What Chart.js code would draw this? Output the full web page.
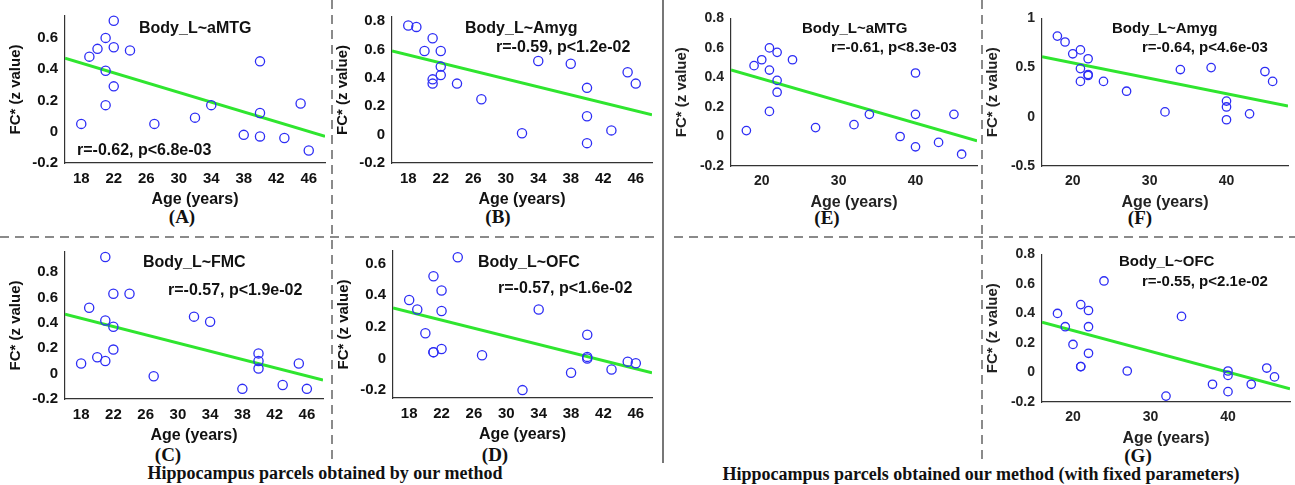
<!DOCTYPE html>
<html>
<head>
    <title>FC vs Age</title>
    <script src="https://cdn.jsdelivr.net/npm/chart.js"></script>
    <style>
        body { margin: 0; background: #fff; }
        #fig { position: relative; width: 1295px; height: 485px; overflow: hidden; }
        #fig canvas { position: absolute; }
        #lines { position: absolute; left: 0; top: 0; }
        .lab { position: absolute; transform: translate(-50%, -50%); font: bold 19px 'Liberation Serif', serif; color: #111; white-space: nowrap; }
        .cap { position: absolute; transform: translate(-50%, -50%); font: bold 18px 'Liberation Serif', serif; color: #111; white-space: nowrap; }
    </style>
</head>
<body>
<div id="fig">
    <svg id="lines" width="1295" height="485">
        <g stroke="#8a8a8a" stroke-width="2" stroke-dasharray="9 6" fill="none">
            <line x1="0" y1="237" x2="655" y2="237"/>
            <line x1="674" y1="237" x2="1295" y2="237"/>
            <line x1="332" y1="0" x2="332" y2="462"/>
            <line x1="982" y1="0" x2="982" y2="462"/>
        </g>
        <line x1="663" y1="0" x2="663" y2="463" stroke="#777" stroke-width="2"/>
    </svg>
    <div class="lab" style="left:182px;top:217px">(A)</div>
    <div class="lab" style="left:498px;top:217px">(B)</div>
    <div class="lab" style="left:827px;top:218px">(E)</div>
    <div class="lab" style="left:1140px;top:218px">(F)</div>
    <div class="lab" style="left:168px;top:455px">(C)</div>
    <div class="lab" style="left:495px;top:455px">(D)</div>
    <div class="lab" style="left:1138px;top:456px">(G)</div>
    <div class="cap" style="left:325px;top:473px">Hippocampus parcels obtained by our method</div>
    <div class="cap" style="left:981px;top:474px">Hippocampus parcels obtained our method (with fixed parameters)</div>
</div>

<script>
    // subject ages, same order for every panel
    var ages = [18, 19, 20, 21, 21, 21, 22, 22, 22, 24, 27, 32, 34, 38, 40, 40, 40, 43, 45, 46];

    var fcA = [0.05, 0.48, 0.53, 0.60, 0.39, 0.17, 0.71, 0.54, 0.29, 0.52, 0.05, 0.09, 0.17, -0.02, 0.45, 0.12, -0.03, -0.04, 0.18, -0.12];
    var fcB = [0.77, 0.76, 0.59, 0.68, 0.39, 0.36, 0.59, 0.48, 0.42, 0.36, 0.25, 0.01, 0.52, 0.50, 0.33, 0.13, -0.06, 0.03, 0.44, 0.36];
    var fcC = [0.08, 0.52, 0.13, 0.92, 0.42, 0.10, 0.63, 0.37, 0.19, 0.63, -0.02, 0.45, 0.41, -0.12, 0.16, 0.10, 0.04, -0.09, 0.08, -0.12];
    var fcD = [0.37, 0.31, 0.16, 0.52, 0.04, 0.04, 0.43, 0.30, 0.06, 0.64, 0.02, -0.20, 0.31, -0.09, 0.15, 0.01, 0.00, -0.07, -0.02, -0.03];
    var fcE = [0.04, 0.48, 0.52, 0.60, 0.45, 0.17, 0.57, 0.38, 0.30, 0.52, 0.06, 0.08, 0.15, 0.00, 0.43, 0.15, -0.07, -0.04, 0.15, -0.12];
    var fcF = [0.82, 0.76, 0.64, 0.68, 0.49, 0.36, 0.59, 0.43, 0.42, 0.36, 0.26, 0.05, 0.48, 0.50, 0.16, 0.10, -0.03, 0.03, 0.46, 0.36];
    var fcG = [0.40, 0.31, 0.19, 0.46, 0.04, 0.04, 0.42, 0.31, 0.13, 0.62, 0.01, -0.16, 0.38, -0.08, 0.01, -0.02, -0.13, -0.08, 0.03, -0.03];

    // regression line end points at age 16 and 48
    var fitX = [16, 48];
    var fitA = [0.47, -0.03];
    var fitB = [0.59, 0.14];
    var fitC = [0.47, -0.05];
    var fitD = [0.32, -0.09];
    var fitE = [0.45, -0.03];
    var fitF = [0.61, 0.11];
    var fitG = [0.34, -0.11];

    var xTicksLeft = [18, 22, 26, 30, 34, 38, 42, 46];
    var xTicksRight = [20, 30, 40];
    var yTicks8 = [-0.2, 0, 0.2, 0.4, 0.6, 0.8];
    var yTicks6 = [-0.2, 0, 0.2, 0.4, 0.6];
    var yTicksF = [-0.5, 0, 0.5, 1];

    var notesPlugin = {
        id: 'notes',
        afterDraw: function (chart, args, opts) {
            var ctx = chart.ctx, a = chart.chartArea;
            ctx.save();
            ctx.fillStyle = '#111';
            ctx.textBaseline = 'middle';
            ctx.textAlign = 'left';
            ctx.font = opts.font;
            for (var i = 0; i < opts.items.length; i++) {
                var n = opts.items[i];
                ctx.fillText(n.text, a.left + n.dx, a.top + n.dy);
            }
            ctx.restore();
        }
    };

    function panel(cfg) {
        var l = cfg.plot[0], t = cfg.plot[1], r = cfg.plot[2], b = cfg.plot[3];
        var padL = 58, padT = 12, padR = 8, axisH = 52;
        var fam = 'Liberation Sans';
        var tickSize = cfg.right ? 14 : 15;
        var titleSize = 16;
        var noteFont = cfg.right ? 'bold 15px "Liberation Sans"' : 'bold 16px "Liberation Sans"';
        var ink = cfg.right ? '#222' : '#111';

        var cv = document.createElement('canvas');
        cv.width = r - l + padL + padR;
        cv.height = b - t + padT + axisH;
        cv.style.left = (l - padL) + 'px';
        cv.style.top = (t - padT) + 'px';
        document.getElementById('fig').appendChild(cv);

        var xt = cfg.right ? xTicksRight : xTicksLeft;

        new Chart(cv, {
            type: 'scatter',
            data: {
                datasets: [{
                    type: 'line',
                    data: fitX.map(function (x, i) { return { x: x, y: cfg.fit[i] }; }),
                    borderColor: '#2fe52f',
                    borderWidth: 3,
                    pointRadius: 0,
                    order: 2
                }, {
                    data: ages.map(function (x, i) { return { x: x, y: cfg.values[i] }; }),
                    pointStyle: 'circle',
                    pointRadius: cfg.right ? 4.2 : 4.6,
                    borderColor: 'rgb(45,45,245)',
                    backgroundColor: 'rgba(0,0,0,0)',
                    borderWidth: 1.3,
                    clip: false,
                    order: 1
                }]
            },
            options: {
                responsive: false,
                animation: false,
                layout: { padding: { top: padT, right: padR, left: 0, bottom: 0 } },
                plugins: {
                    legend: { display: false },
                    tooltip: { enabled: false },
                    notes: { font: noteFont, items: cfg.notes }
                },
                scales: {
                    x: {
                        type: 'linear', min: 16, max: 48,
                        afterBuildTicks: function (s) { s.ticks = xt.map(function (v) { return { value: v }; }); },
                        afterFit: function (s) { s.height = axisH; },
                        grid: { display: false, drawTicks: false },
                        border: { color: '#333', width: 1.2 },
                        ticks: { autoSkip: false, maxRotation: 0, padding: 7, color: ink,
                                 font: { family: fam, weight: 'bold', size: tickSize },
                                 callback: function (v) { return String(v); } },
                        title: { display: true, text: 'Age (years)', color: ink,
                                 font: { family: fam, weight: 'bold', size: titleSize },
                                 padding: { top: 0, bottom: 6 } }
                    },
                    y: {
                        type: 'linear', min: cfg.yMin, max: cfg.yMax,
                        afterBuildTicks: function (s) { s.ticks = cfg.yTicks.map(function (v) { return { value: v }; }); },
                        afterFit: function (s) { s.width = padL; },
                        grid: { display: false, drawTicks: false },
                        border: { color: '#333', width: 1.2 },
                        ticks: { autoSkip: false, padding: 7, color: ink,
                                 font: { family: fam, weight: 'bold', size: tickSize },
                                 callback: function (v) { return String(v); } },
                        title: { display: true, text: 'FC* (z value)', color: ink,
                                 font: { family: fam, weight: 'bold', size: 15 },
                                 padding: { top: 0, bottom: 0 } }
                    }
                }
            },
            plugins: [notesPlugin]
        });
    }

    panel({ plot: [65, 12, 325, 163], values: fcA, fit: fitA, yMin: -0.2, yMax: 0.74, yTicks: yTicks6,
            notes: [{ text: 'Body_L~aMTG', dx: 74, dy: 13 }, { text: 'r=-0.62, p<6.8e-03', dx: 12, dy: 135 }] });
    panel({ plot: [392, 13, 652, 163], values: fcB, fit: fitB, yMin: -0.2, yMax: 0.83, yTicks: yTicks8,
            notes: [{ text: 'Body_L~Amyg', dx: 73, dy: 12 }, { text: 'r=-0.59, p<1.2e-02', dx: 104, dy: 31 }] });
    panel({ plot: [65, 248, 323, 399], values: fcC, fit: fitC, yMin: -0.2, yMax: 0.96, yTicks: yTicks8,
            notes: [{ text: 'Body_L~FMC', dx: 78, dy: 11 }, { text: 'r=-0.57, p<1.9e-02', dx: 103, dy: 39 }] });
    panel({ plot: [393, 247, 652, 398], values: fcD, fit: fitD, yMin: -0.25, yMax: 0.68, yTicks: yTicks6,
            notes: [{ text: 'Body_L~OFC', dx: 85, dy: 12 }, { text: 'r=-0.57, p<1.6e-02', dx: 105, dy: 38 }] });
    panel({ plot: [731, 15, 977, 166], values: fcE, fit: fitE, yMin: -0.2, yMax: 0.8, yTicks: yTicks8, right: true,
            notes: [{ text: 'Body_L~aMTG', dx: 71, dy: 10 }, { text: 'r=-0.61, p<8.3e-03', dx: 100, dy: 29 }] });
    panel({ plot: [1042, 15, 1288, 166], values: fcF, fit: fitF, yMin: -0.5, yMax: 1, yTicks: yTicksF, right: true,
            notes: [{ text: 'Body_L~Amyg', dx: 70, dy: 10 }, { text: 'r=-0.64, p<4.6e-03', dx: 100, dy: 29 }] });
    panel({ plot: [1042, 251, 1290, 402], values: fcG, fit: fitG, yMin: -0.2, yMax: 0.8, yTicks: yTicks8, right: true,
            notes: [{ text: 'Body_L~OFC', dx: 77, dy: 7 }, { text: 'r=-0.55, p<2.1e-02', dx: 100, dy: 27 }] });
</script>
</body>
</html>
